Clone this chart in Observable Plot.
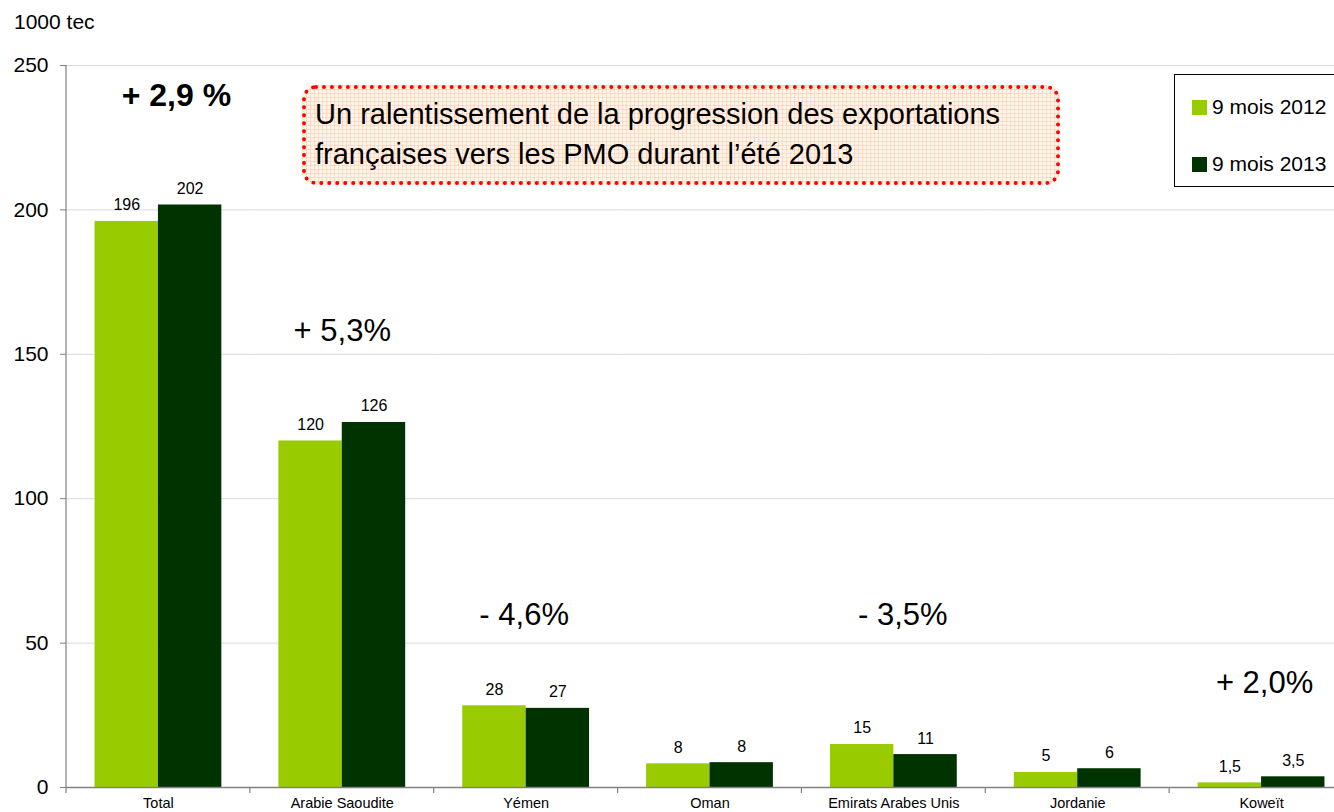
<!DOCTYPE html>
<html>
<head>
<meta charset="utf-8">
<script src="https://cdn.jsdelivr.net/npm/d3@7"></script>
<script src="https://cdn.jsdelivr.net/npm/@observablehq/plot@0.6"></script>
<style>
  html, body { margin: 0; padding: 0; overflow: hidden; background: white; }
  #wrap { position: relative; width: 1334px; height: 812px; overflow: hidden; font-family: "Liberation Sans", Arial, sans-serif; }
  #chart svg { max-width: none !important; }
  #unit { position: absolute; left: 14px; top: 11px; font-size: 21px; line-height: 1; color: #000; }
  #note { position: absolute; left: 302px; top: 85px; width: 758px; height: 100px; box-sizing: border-box;
    border: 4px dotted #ff0000; border-radius: 14px;
    background-color: #fff4ec;
    background-image: linear-gradient(rgba(250,180,130,0.35) 1px, transparent 1px), linear-gradient(90deg, rgba(250,180,130,0.35) 1px, transparent 1px);
    background-size: 4px 4px;
    font-size: 29px; line-height: 40px; padding: 5px 0 0 9px; color: #000; white-space: nowrap; }
  #legend { position: absolute; left: 1174px; top: 74px; width: 200px; height: 113px; box-sizing: border-box; border: 1px solid #000; background: #fff; }
  .li { position: absolute; left: 17px; font-size: 21px; line-height: 21px; color: #000; white-space: nowrap; }
  .sw { display: inline-block; width: 15px; height: 15px; margin-right: 5px; vertical-align: -1px; }
</style>
</head>
<body>
<div id="wrap">
  <div id="chart"></div>
  <div id="unit"></div>
  <div id="note"></div>
  <div id="legend"></div>
</div>
<script>
const categories = ["Total", "Arabie Saoudite", "Yémen", "Oman", "Emirats Arabes Unis", "Jordanie", "Koweït"];
const series = ["9 mois 2012", "9 mois 2013"];
const values2012 = [196, 120, 28.3, 8.2, 14.9, 5.2, 1.6];
const values2013 = [201.7, 126.4, 27.4, 8.6, 11.4, 6.5, 3.7];
const labels2012 = ["196", "120", "28", "8", "15", "5", "1,5"];
const labels2013 = ["202", "126", "27", "8", "11", "6", "3,5"];
const colors = ["#99cc00", "#003300"];
const yTicks = [0, 50, 100, 150, 200, 250];
const unitLabel = "1000 tec";
const noteLines = ["Un ralentissement de la progression des exportations", "françaises vers les PMO durant l’été 2013"];
const pctCats = ["Total", "Arabie Saoudite", "Yémen", "Emirats Arabes Unis", "Koweït"];
const pctText = ["+ 2,9 %", "+ 5,3%", "- 4,6%", "- 3,5%", "+ 2,0%"];
const pctY = [239.6, 158.2, 59.6, 59.6, 36];
const pctDx = [18, 0, -2, 9, 3];
const pctBold = [true, false, false, false, false];

const data = [];
categories.forEach((c, i) => {
  data.push({cat: c, s: series[0], v: values2012[i], lab: labels2012[i]});
  data.push({cat: c, s: series[1], v: values2013[i], lab: labels2013[i]});
});
const pct = pctCats.map((c, i) => ({cat: c, t: pctText[i], y: pctY[i], dx: pctDx[i], b: pctBold[i]}));

const plot = Plot.plot({
  width: 1353,
  height: 812,
  marginLeft: 66,
  marginRight: 0,
  marginTop: 65,
  marginBottom: 25,
  style: {fontFamily: "'Liberation Sans', Arial, sans-serif", fontSize: "14px", color: "#000", background: "transparent", maxWidth: "none"},
  fx: {domain: categories, padding: 0, round: false, label: null},
  x: {domain: series, paddingInner: 0, paddingOuter: 0.45, round: false, axis: null},
  y: {domain: [0, 250], label: null},
  color: {domain: series, range: colors},
  marks: [
    Plot.gridY(yTicks.filter(d => d > 0), {stroke: "#d9d9d9", strokeOpacity: 1}),
    Plot.axisY(yTicks, {tickSize: 6, tickPadding: 12, fontSize: 21, stroke: "#808080", fill: "#000", label: null}),
    Plot.axisFx({anchor: "bottom", tickSize: 0, tickPadding: 10, fontSize: 14.5, label: null}),
    Plot.barY(data, {fx: "cat", x: "s", y: "v", fill: "s"}),
    Plot.ruleY([0], {stroke: "#808080", strokeWidth: 1.5}),
    Plot.text(data, {fx: "cat", x: "s", y: "v", text: "lab", dy: -11, lineAnchor: "bottom", fontSize: 16, fill: "#000"}),
    ...pct.map(p => Plot.text([p], {fx: "cat", y: "y", text: "t", dx: p.dx, lineAnchor: "middle", fontSize: p.b ? 32 : 31, fontWeight: p.b ? "bold" : "normal", fill: "#000"}))
  ]
});
document.getElementById("chart").appendChild(plot);

// axis line and category boundary ticks from the plot's own scales
const fxS = plot.scale("fx");
const yS = plot.scale("y");
const g = d3.select(plot).append("g").attr("stroke", "#808080").attr("stroke-width", 1.2);
const x0 = fxS.range[0];
g.append("line").attr("x1", x0).attr("x2", x0).attr("y1", yS.apply(0)).attr("y2", yS.apply(250));
const bounds = categories.map(c => fxS.apply(c)).concat([fxS.range[1]]);
bounds.forEach(b => {
  g.append("line").attr("x1", b).attr("x2", b).attr("y1", yS.apply(0)).attr("y2", yS.apply(0) + 6);
});

document.getElementById("unit").textContent = unitLabel;
document.getElementById("note").innerHTML = noteLines.map(l => `<div>${l}</div>`).join("");
document.getElementById("legend").innerHTML = series.map((s, i) =>
  `<div class="li" style="top:${21 + i * 57}px"><span class="sw" style="background:${colors[i]}"></span>${s}</div>`).join("");
</script>
</body>
</html>
